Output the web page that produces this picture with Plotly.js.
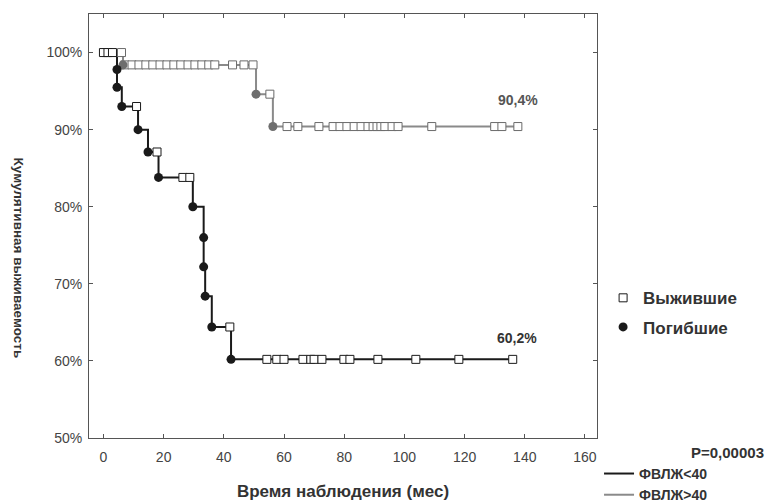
<!DOCTYPE html>
<html>
<head>
<meta charset="utf-8">
<script src="https://cdn.plot.ly/plotly-3.0.1.min.js"></script>
<style>html,body{margin:0;padding:0;background:#fff;}#chart{width:765px;height:503px;}</style>
</head>
<body>
<div id="chart"></div>
<script>
// ===== Data =====
// Group ФВЛЖ<40 (black curve)
const blackEventT = [4.5, 4.5, 6.1, 11.5, 14.8, 18.3, 29.7, 33.3, 33.3, 33.8, 36.0, 42.4];
const blackEventS = [97.8, 95.5, 93.0, 90.0, 87.1, 83.8, 80.0, 76.0, 72.2, 68.4, 64.4, 60.2];
const blackCensT = [0, 1.5, 3.0, 11.0, 17.8, 26.4, 28.7, 42.0, 54.3, 57.6, 60.0, 66.3, 68.9, 70.0, 72.6, 79.9, 81.9, 91.2, 103.8, 118.1, 136.0];
const blackCensS = [100, 100, 100, 93.0, 87.1, 83.8, 83.8, 64.4, 60.2, 60.2, 60.2, 60.2, 60.2, 60.2, 60.2, 60.2, 60.2, 60.2, 60.2, 60.2, 60.2];

// Group ФВЛЖ>40 (grey curve)
const greyEventT = [6.5, 50.7, 56.3];
const greyEventS = [98.4, 94.6, 90.4];
const greyCensT = [1.0, 6.0, 7.1, 9.5, 11.8, 14.1, 16.4, 18.8, 21.1, 23.4, 25.7, 28.1, 30.4, 32.7, 35.0, 37.0, 42.9, 46.7, 49.7, 55.3,
                   61.0, 64.6, 71.6, 76.3, 78.6, 80.9, 83.3, 85.6, 87.9, 89.6, 90.9, 92.2, 93.5, 95.9, 97.9, 109.1, 130.0, 132.4, 137.7];
const greyCensS = [100, 100, 98.4, 98.4, 98.4, 98.4, 98.4, 98.4, 98.4, 98.4, 98.4, 98.4, 98.4, 98.4, 98.4, 98.4, 98.4, 98.4, 98.4, 94.6,
                   90.4, 90.4, 90.4, 90.4, 90.4, 90.4, 90.4, 90.4, 90.4, 90.4, 90.4, 90.4, 90.4, 90.4, 90.4, 90.4, 90.4, 90.4, 90.4];

const xTicks = [0, 20, 40, 60, 80, 100, 120, 140, 160];
const yTicks = [50, 60, 70, 80, 90, 100];
const yTickText = ["50%", "60%", "70%", "80%", "90%", "100%"];
const labelBlack = "60,2%";
const labelGrey = "90,4%";
const pValue = "P=0,00003";

// ===== Step lines built from the data =====
const blackLineX = [0].concat(blackEventT, [blackCensT[blackCensT.length - 1]]);
const blackLineY = [100].concat(blackEventS, [blackEventS[blackEventS.length - 1]]);
const greyLineX = [0].concat(greyEventT, [greyCensT[greyCensT.length - 1]]);
const greyLineY = [100].concat(greyEventS, [greyEventS[greyEventS.length - 1]]);

const FONT = "Liberation Sans, Arial, sans-serif";
const BLACK = "#1a1a1a";
const GREY = "#8a8a8a";

const traces = [
  {x: blackLineX, y: blackLineY, type: "scatter", mode: "lines", line: {shape: "hv", color: BLACK, width: 2},
   name: "ФВЛЖ<40", legend: "legend2", hoverinfo: "skip"},
  {x: greyLineX, y: greyLineY, type: "scatter", mode: "lines", line: {shape: "hv", color: GREY, width: 2},
   name: "ФВЛЖ>40", legend: "legend2", hoverinfo: "skip"},
  {x: greyCensT, y: greyCensS, type: "scatter", mode: "markers", showlegend: false,
   marker: {symbol: "square", size: 8, color: "#ffffff", line: {color: "#6a6a6a", width: 1}}},
  {x: blackCensT, y: blackCensS, type: "scatter", mode: "markers", name: "Выжившие", legendgroup: "m1",
   marker: {symbol: "square", size: 8, color: "#ffffff", line: {color: BLACK, width: 1}}},
  {x: greyEventT, y: greyEventS, type: "scatter", mode: "markers", showlegend: false,
   marker: {symbol: "circle", size: 9, color: "#6e6e6e", line: {width: 0}}},
  {x: blackEventT, y: blackEventS, type: "scatter", mode: "markers", name: "Погибшие", legendgroup: "m2",
   marker: {symbol: "circle", size: 9, color: BLACK, line: {width: 0}}}
];

const layout = {
  width: 765, height: 503,
  margin: {l: 89, r: 168, t: 14, b: 65, autoexpand: false},
  paper_bgcolor: "#ffffff", plot_bgcolor: "#ffffff",
  font: {family: FONT, color: "#333"},
  showlegend: true,
  xaxis: {
    range: [-4.8, 164], tickvals: xTicks, ticktext: xTicks.map(String),
    ticks: "inside", ticklen: 4, tickcolor: "#555", showline: true, mirror: "ticks",
    linecolor: "#555", linewidth: 1, showgrid: false, zeroline: false,
    tickfont: {family: FONT, size: 14, color: "#444"}, ticklabelstandoff: 6,
    title: {text: "Время наблюдения (мес)", standoff: 21, font: {family: FONT, size: 17, color: "#333", weight: "bold"}}
  },
  yaxis: {
    range: [50, 105], tickvals: yTicks, ticktext: yTickText,
    ticks: "inside", ticklen: 4, tickcolor: "#555", showline: true, mirror: "ticks",
    linecolor: "#555", linewidth: 1, showgrid: false, zeroline: false,
    tickfont: {family: FONT, size: 14, color: "#444"}, ticklabelstandoff: 3
  },
  legend: {
    x: 1.012, xanchor: "left", y: 0.372, yanchor: "top", bgcolor: "rgba(0,0,0,0)",
    traceorder: "grouped", tracegroupgap: 4,
    font: {family: FONT, size: 17, color: "#333", weight: "bold"}
  },
  legend2: {
    x: 1.004, xanchor: "left", y: -0.047, yanchor: "top", bgcolor: "rgba(0,0,0,0)",
    traceorder: "normal",
    font: {family: FONT, size: 14, color: "#333", weight: "bold"}
  },
  annotations: [
    {text: "Кумулятивная выживаемость", xref: "paper", yref: "paper", x: -0.158, y: 0.425,
     textangle: 90, showarrow: false, font: {family: FONT, size: 13.5, color: "#333", weight: "bold"}},
    {text: labelGrey, xref: "x", yref: "y", x: greyCensT[greyCensT.length - 1], y: 93.9, showarrow: false,
     font: {family: FONT, size: 14, color: "#555", weight: "bold"}},
    {text: labelBlack, xref: "x", yref: "y", x: blackCensT[blackCensT.length - 1] + 1.5, y: 63.0, showarrow: false,
     font: {family: FONT, size: 14, color: "#333", weight: "bold"}},
    {text: pValue, xref: "paper", yref: "paper", x: 1.333, xanchor: "right", y: -0.059, showarrow: false,
     font: {family: FONT, size: 15, color: "#333", weight: "bold"}}
  ]
};

Plotly.newPlot("chart", traces, layout, {displayModeBar: false, staticPlot: true});
</script>
</body>
</html>
